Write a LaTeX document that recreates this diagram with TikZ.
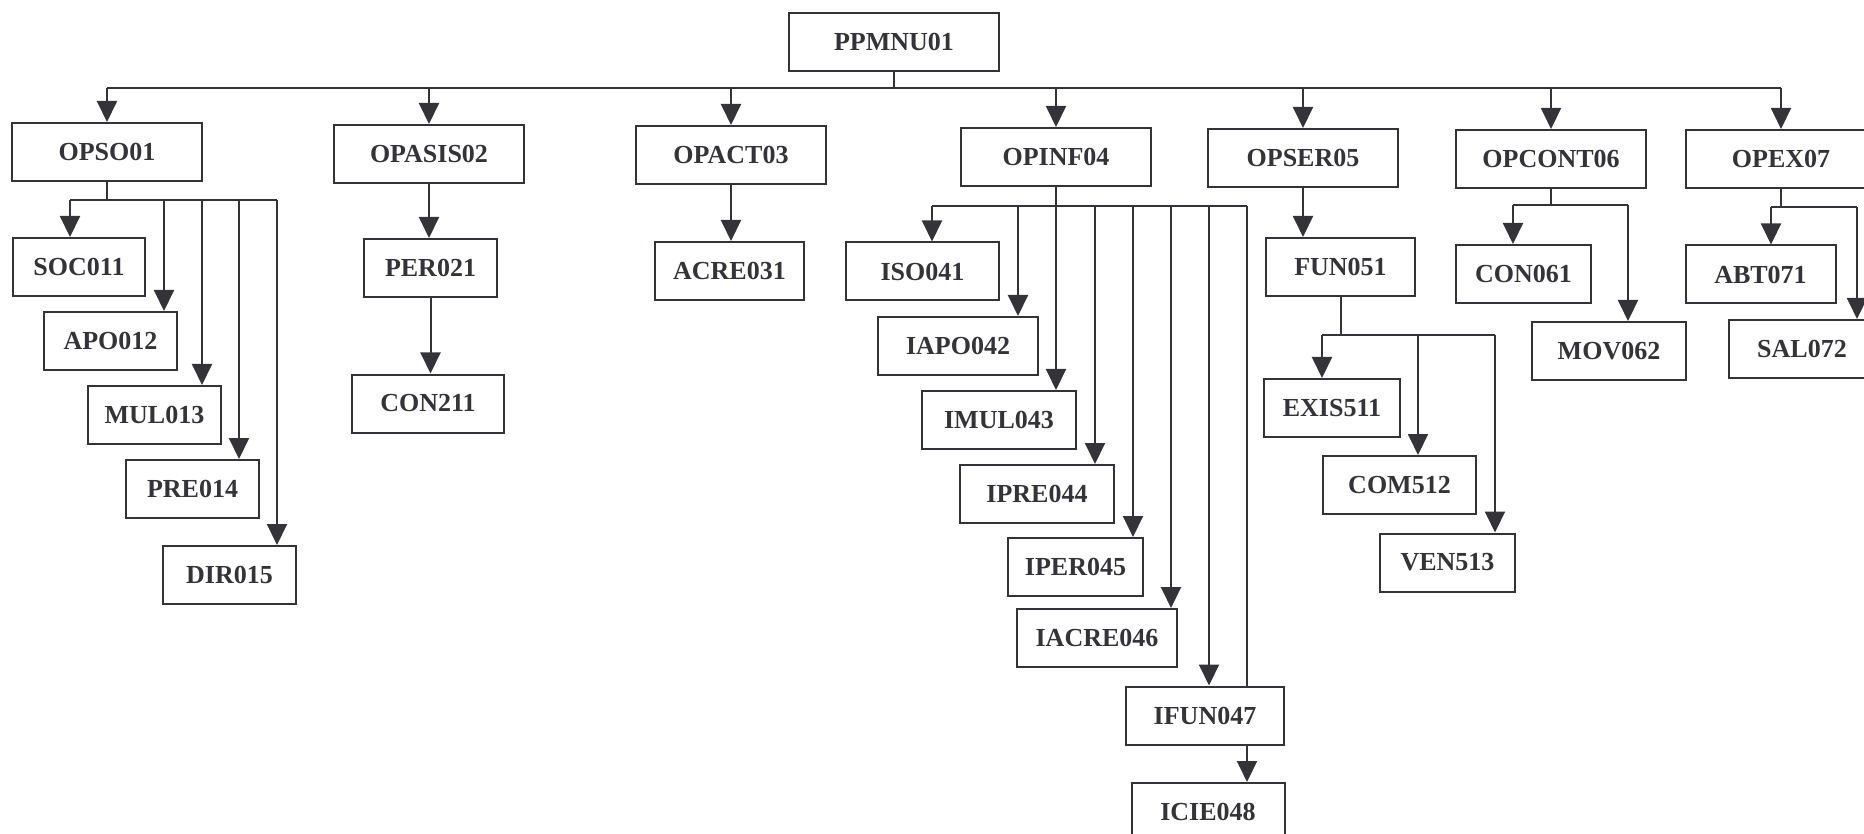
\documentclass[tikz,border=0pt]{standalone}
\usepackage{fontspec}
\setmainfont{Liberation Serif}
\usetikzlibrary{arrows.meta}
\definecolor{inkgray}{RGB}{52,52,56}

\begin{document}
\begin{tikzpicture}[x=0.5pt, y=-0.5pt,
  menubox/.style={draw=inkgray, line width=1pt, fill=white, inner sep=0pt,
    minimum height=29pt, minimum width=#1, text=inkgray,
    font=\fontsize{13}{15}\selectfont\bfseries},
  menubox/.default=66.5pt,
  link/.style={draw=inkgray, line width=1pt},
  arr/.style={link, -{Triangle[width=10pt, length=10.5pt]}}]
  \useasboundingbox (0,0) rectangle (1864,834);
  \clip (0,0) rectangle (1864,834);

  \node[menubox=105pt] (PPMNU01) at (894,42) {PPMNU01};
  \foreach \n/\x/\y in {OPSO01/107/152, OPASIS02/429/154, OPACT03/731/155,
      OPINF04/1056/157, OPSER05/1303/158, OPCONT06/1551/159, OPEX07/1781/159}
    \node[menubox=95pt] (\n) at (\x,\y) {\n};

  \node[menubox=66pt] (SOC011) at (79,267) {SOC011};
  \node[menubox] (APO012) at (110.5,341) {APO012};
  \node[menubox] (MUL013) at (154.5,415) {MUL013};
  \node[menubox] (PRE014) at (192.5,489) {PRE014};
  \node[menubox] (DIR015) at (229.5,575) {DIR015};
  \node[menubox] (PER021) at (430.5,268) {PER021};
  \node[menubox=76pt] (CON211) at (428,403.5) {CON211};
  \node[menubox=74.5pt] (ACRE031) at (729.5,271) {ACRE031};
  \node[menubox=76.5pt] (ISO041) at (922.5,271.5) {ISO041};
  \node[menubox=80pt] (IAPO042) at (958,346) {IAPO042};
  \node[menubox=77pt] (IMUL043) at (999,420) {IMUL043};
  \node[menubox=77pt] (IPRE044) at (1037,494) {IPRE044};
  \node[menubox=67.5pt] (IPER045) at (1075.5,567) {IPER045};
  \node[menubox=80pt] (IACRE046) at (1097,638) {IACRE046};
  \node[menubox=79pt] (IFUN047) at (1205,715.5) {IFUN047};
  \node[menubox=76.5pt] (ICIE048) at (1208,812) {ICIE048};
  \node[menubox=74.5pt] (FUN051) at (1340.5,267) {FUN051};
  \node[menubox=68pt] (EXIS511) at (1332,408) {EXIS511};
  \node[menubox=76.5pt] (COM512) at (1399.5,485) {COM512};
  \node[menubox=67.5pt] (VEN513) at (1447.5,562.5) {VEN513};
  \node[menubox=67.5pt] (CON061) at (1523.5,274) {CON061};
  \node[menubox=77pt] (MOV062) at (1609,351) {MOV062};
  \node[menubox=75pt] (ABT071) at (1760.5,274.5) {ABT071};
  \node[menubox=73pt] (SAL072) at (1802,349) {SAL072};

  % main bus
  \coordinate (topbus) at (894,88);
  \draw[link] (PPMNU01.south) -- (topbus);
  \draw[link] (OPSO01.north |- topbus) -- (OPEX07.north |- topbus);
  \foreach \n in {OPSO01,OPASIS02,OPACT03,OPINF04,OPSER05,OPCONT06,OPEX07}
    \draw[arr] (\n.north |- topbus) -- (\n.north);

  % OPSO01
  \foreach \x/\n in {70/SOC011, 164/APO012, 202/MUL013, 239/PRE014, 277/DIR015} {
    \coordinate (j\n) at (\x,200);
    \draw[arr] (j\n) -- (j\n |- \n.north);
  }
  \draw[link] (OPSO01.south) -- (OPSO01.south |- jSOC011);
  \draw[link] (jSOC011) -- (jDIR015);

  \draw[arr] (OPASIS02.south) -- (OPASIS02.south |- PER021.north);
  \draw[arr] (PER021.south) -- (PER021.south |- CON211.north);
  \draw[arr] (OPACT03.south) -- (OPACT03.south |- ACRE031.north);

  % OPINF04
  \foreach \x/\n in {932/ISO041, 1018/IAPO042, 1056/IMUL043, 1095/IPRE044,
      1133/IPER045, 1171/IACRE046, 1209/IFUN047} {
    \coordinate (j\n) at (\x,206);
    \draw[arr] (j\n) -- (j\n |- \n.north);
  }
  \coordinate (jICIE048) at (1247,206);
  \draw[link] (OPINF04.south) -- (OPINF04.south |- jISO041);
  \draw[link] (jISO041) -- (jICIE048);
  \draw[link] (jICIE048) -- (jICIE048 |- IFUN047.north);
  \draw[arr] (jICIE048 |- IFUN047.south) -- (jICIE048 |- ICIE048.north);

  % OPSER05
  \draw[arr] (OPSER05.south) -- (OPSER05.south |- FUN051.north);
  \foreach \x/\n in {1322/EXIS511, 1418/COM512, 1495/VEN513} {
    \coordinate (j\n) at (\x,335);
    \draw[arr] (j\n) -- (j\n |- \n.north);
  }
  \draw[link] (FUN051.south) -- (FUN051.south |- jEXIS511);
  \draw[link] (jEXIS511) -- (jVEN513);

  % OPCONT06
  \foreach \x/\n in {1513/CON061, 1628/MOV062} {
    \coordinate (j\n) at (\x,205);
    \draw[arr] (j\n) -- (j\n |- \n.north);
  }
  \draw[link] (OPCONT06.south) -- (OPCONT06.south |- jCON061);
  \draw[link] (jCON061) -- (jMOV062);

  % OPEX07
  \foreach \x/\n in {1771/ABT071, 1857/SAL072} {
    \coordinate (j\n) at (\x,207);
    \draw[arr] (j\n) -- (j\n |- \n.north);
  }
  \draw[link] (OPEX07.south) -- (OPEX07.south |- jABT071);
  \draw[link] (jABT071) -- (jSAL072);
\end{tikzpicture}
\end{document}
